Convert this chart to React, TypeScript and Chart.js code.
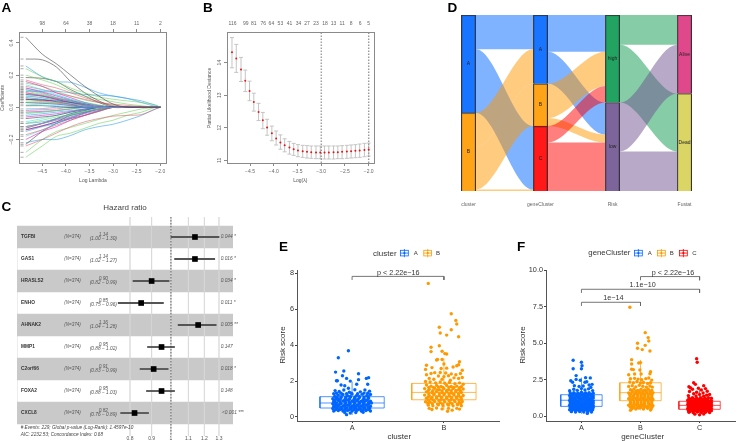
import React, { useEffect, useRef } from "react";
import { Chart, registerables } from "chart.js";

Chart.register(...registerables);

const W = 739;
const H = 441;
const FAM = '"Liberation Sans", Arial, sans-serif';

/* ---------- Panel A: coefficient paths ---------- */
const lambdaKnots = [-4.85, -4.5, -4.2, -3.9, -3.6, -3.3, -3.0, -2.7, -2.4, -2.1, -2.0];
const pathColors = ["#333333", "#DF536B", "#61D04F", "#2297E6", "#28E2E5", "#CD0BBC"];
const coefPaths = [
  [.435, .33, .27, .2, .13, .07, .02],
  [.17, .14, .12, .09, .06, .035, .01],
  [.24, .19, .16, .12, .09, .065, .05, .04, .03, .015, 0],
  [.257, .19, .16, .155, .125, .09, .07, .055, .04, .012, 0],
  [.14, .11, .08, .05, .03, .01],
  [.16, .13, .09, .06, .03, .01],
  [.3, .295, .25, .16, .09, .04, .005],
  [.13, .11, .09, .07, .05, .03, .02, .012, .005],
  [.2, .17, .14, .1, .07, .05, .035, .02, .01],
  [.1, .1, .1, .09, .08, .075, .07, .055, .03, .005],
  [.11, .085, .06, .04, .02],
  [.12, .095, .07, .045, .02],
  [.185, .18, .16, .11, .07, .03],
  [.09, .075, .055, .04, .02],
  [.15, .13, .1, .07, .045, .03, .015],
  [.08, .07, .055, .035, .02],
  [.07, .06, .04, .025, .01],
  [.09, .07, .05, .03, .01],
  [.05, .045, .04, .03, .02, .01],
  [.05, .04, .03, .02, .01],
  [.03, .03, .025, .02, .01],
  [.03, .025, .02, .012],
  [.02, .015, .01, .005],
  [.05, .045, .035, .02],
  [.01, .01, .005],
  [-.02, -.015, -.01],
  [-.04, -.03, -.02, -.01],
  [-.05, -.04, -.03, -.02, -.01],
  [-.03, -.03, -.02, -.01],
  [-.06, -.05, -.04, -.025, -.01],
  [-.07, -.06, -.05, -.03, -.015],
  [-.24, -.2, -.16, -.12, -.09, -.07, -.055, -.05, -.045, -.01, 0],
  [-.1, -.08, -.06, -.045, -.025, -.01],
  [-.22, -.2, -.2, -.175, -.14, -.12, -.105, -.08, -.05, -.01],
  [-.12, -.1, -.08, -.05, -.03, -.01],
  [-.14, -.115, -.09, -.065, -.035, -.01],
  [-.14, -.115, -.09, -.05, -.03, -.01],
  [-.17, -.14, -.11, -.08, -.05, -.025],
  [-.31, -.24, -.18, -.16, -.13, -.1, -.08, -.05, -.03],
  [-.15, -.12, -.1, -.07, -.04, -.02],
  [-.18, -.14, -.1, -.06, -.03],
  [-.2, -.15, -.12, -.08, -.05, -.02],
  [-.23, -.15, -.1, -.07, -.05, -.025],
  [-.12, -.1, -.08, -.06, -.035, -.015],
  [-.28, -.2, -.15, -.125, -.1, -.075, -.05, -.03, -.01],
  [-.1, -.09, -.07, -.04, -.02],
  [-.09, -.07, -.05, -.03, -.01],
  [-.12, -.1, -.075, -.05, -.03, -.01],
  [-.13, -.1, -.07, -.04, -.02],
  [.07, .06, .045, .03, .015],
  [.1, .08, .06, .04, .03, .015],
  [.06, .05, .035, .02],
  [.06, .05, .04, .03, .015],
  [.03, .025, .02, .01],
  [.08, .07, .05, .03, .015],
  [.11, .09, .06, .04, .02],
  [.04, .035, .025, .015],
  [-.01, -.008],
  [.12, .1, .075, .05, .025],
  [-.03, -.025, -.02, -.01],
];
const lambdaTicks = [-4.5, -4, -3.5, -3, -2.5, -2];
const lambdaTickLabels = ["\u22124.5", "\u22124.0", "\u22123.5", "\u22123.0", "\u22122.5", "\u22122.0"];
const coefTopLabels = ["98", "64", "38", "18", "11", "2"];
const coefTicks = [-.2, 0, .2, .4];
const coefTickLabels = ["\u22120.2", "0.0", "0.2", "0.4"];

/* ---------- Panel B: cross-validation ---------- */
const cvLambda = [-4.88, -4.79, -4.69, -4.6, -4.51, -4.42, -4.32, -4.23, -4.14, -4.04, -3.95, -3.86, -3.77, -3.67, -3.58, -3.49, -3.39, -3.3, -3.21, -3.11, -3.02, -2.93, -2.84, -2.74, -2.65, -2.56, -2.46, -2.37, -2.28, -2.19, -2.09, -2.0];
const cvMean = [14.32, 14.13, 13.79, 13.44, 13.13, 12.79, 12.48, 12.23, 12.01, 11.83, 11.67, 11.55, 11.46, 11.39, 11.34, 11.3, 11.28, 11.26, 11.25, 11.24, 11.24, 11.24, 11.24, 11.25, 11.25, 11.26, 11.27, 11.28, 11.29, 11.3, 11.32, 11.33];
const cvUpper = [14.77, 14.56, 14.16, 13.77, 13.43, 13.06, 12.75, 12.47, 12.26, 12.05, 11.9, 11.78, 11.66, 11.58, 11.52, 11.48, 11.46, 11.45, 11.44, 11.44, 11.44, 11.44, 11.44, 11.44, 11.44, 11.45, 11.46, 11.47, 11.48, 11.5, 11.52, 11.53];
const cvLower = [13.84, 13.7, 13.42, 13.11, 12.83, 12.51, 12.22, 11.97, 11.77, 11.6, 11.47, 11.34, 11.26, 11.19, 11.15, 11.11, 11.09, 11.07, 11.06, 11.05, 11.05, 11.04, 11.04, 11.04, 11.05, 11.05, 11.06, 11.07, 11.08, 11.09, 11.11, 11.13];
const cvTopTicks = [-4.87, -4.59, -4.42, -4.22, -4.05, -3.86, -3.67, -3.48, -3.3, -3.11, -2.92, -2.74, -2.56, -2.37, -2.18, -2.0];
const cvTopLabels = ["116", "99", "81", "76", "64", "53", "41", "34", "27", "23", "18", "13", "11", "8", "6", "5"];
const cvYTicks = [11, 12, 13, 14];
const cvVLines = [-3, -2];

/* ---------- Panel C: forest plot ---------- */
const genes = ["TGFBI", "GAS1", "HRASLS2", "ENHO", "AHNAK2", "MMP1", "C2orf66", "FOXA2", "CXCL8"];
const hazard = [1.14, 1.14, 0.9, 0.85, 1.16, 0.95, 0.91, 0.95, 0.82];
const hazardLo = [1.0, 1.02, 0.813, 0.75, 1.04, 0.88, 0.845, 0.875, 0.76];
const hazardHi = [1.3, 1.27, 0.99, 0.96, 1.28, 1.02, 0.985, 1.02, 0.885];
const hazardText = ["1.14", "1.14", "0.90", "0.85", "1.16", "0.95", "0.91", "0.95", "0.82"];
const ciText = ["(1.00 \u2212 1.30)", "(1.02 \u2212 1.27)", "(0.82 \u2212 0.99)", "(0.75 \u2212 0.96)", "(1.04 \u2212 1.28)", "(0.88 \u2212 1.02)", "(0.83 \u2212 0.99)", "(0.88 \u2212 1.03)", "(0.76 \u2212 0.89)"];
const pText = ["0.044 *", "0.016 *", "0.034 *", "0.011 *", "0.005 **", "0.147", "0.018 *", "0.148", "<0.001 ***"];
const hrTicks = [0.8, 0.9, 1, 1.1, 1.2, 1.3];
const hrTickLabels = ["0.8", "0.9", "1", "1.1", "1.2", "1.3"];

/* ---------- Panel D: alluvial ---------- */
const alluvialAxes = ["cluster", "geneCluster", "Risk", "Fustat"];
const strataNames = [["A", "B"], ["A", "B", "C"], ["high", "low"], ["Alive", "Dead"]];
const strataColors = [
  ["#0066ff", "#ff9900"],
  ["#0066ff", "#ff9900", "#ff0000"],
  ["#0b9950", "#6f5490"],
  ["#dd3480", "#d6d054"],
];
const strataSizes = [[208, 166], [146, 90, 138], [186, 188], [167, 207]];
const flowTable = [
  [0, 0, 0, 73], [0, 0, 2, 135], [0, 1, 0, 73], [0, 1, 1, 90], [0, 1, 2, 3],
  [1, 0, 0, 78], [1, 0, 1, 68], [1, 1, 0, 73], [1, 1, 1, 17], [1, 2, 0, 35], [1, 2, 1, 103],
  [2, 0, 0, 63], [2, 0, 1, 123], [2, 1, 0, 104], [2, 1, 1, 84],
];

/* ---------- Panels E, F: risk score ---------- */
const eA = [[-.04, 3.69], [-.15, 3.3], [-.18, 2.5], [-.09, 2.56], [.07, 2.41], [-.06, 2.15], [-.17, 2.02], [-.16, 2.02], [-.105, 2.3], [-.02, 2], [.07, 2.08], [.155, 2.15], [.18, 2.19], [.17, 1.82], [-.12, 1.78], [-.08, 1.74], [.05, 1.82], [-.185, 1.47], [-.04, 1.6],
  [-.2, 1.3], [-.14, 1.42], [-.09, 1.5], [-.03, 1.38], [.03, 1.52], [.09, 1.4], [.14, 1.5], [.19, 1.44],
  [-.19, 1.15], [-.15, 1.22], [-.1, 1.25], [-.05, 1.18], [0, 1.28], [.05, 1.2], [.11, 1.26], [.16, 1.18], [.2, 1.25],
  [-.21, 1.02], [-.16, 1.05], [-.12, 1.08], [-.07, 1.02], [-.02, 1.1], [.03, 1.04], [.08, 1.08], [.13, 1.02], [.18, 1.06],
  [-.2, .88], [-.15, .92], [-.1, .9], [-.05, .94], [0, .88], [.05, .92], [.1, .88], [.15, .92], [.2, .88],
  [-.21, .74], [-.17, .78], [-.12, .75], [-.07, .79], [-.02, .74], [.03, .78], [.08, .75], [.13, .78], [.18, .74], [.21, .78],
  [-.2, .6], [-.15, .64], [-.1, .61], [-.05, .65], [0, .6], [.05, .64], [.1, .61], [.15, .65], [.2, .6],
  [-.21, .47], [-.16, .5], [-.11, .46], [-.06, .5], [-.01, .47], [.04, .5], [.09, .46], [.14, .5], [.19, .47],
  [-.2, .33], [-.15, .36], [-.1, .33], [-.05, .36], [0, .33], [.05, .36], [.1, .33], [.15, .36], [.2, .33],
  [-.08, .25], [-.02, .22], [-.06, .13], [.04, .25], [.12, .26]];
const eACore = [[-.18, .4], [-.13, .42], [-.08, .39], [-.03, .41], [.02, .4], [.07, .42], [.12, .39], [.17, .41],
  [-.18, .54], [-.125, .55], [-.075, .53], [-.025, .56], [.025, .54], [.075, .55], [.125, .53], [.175, .55],
  [-.18, .67], [-.14, .69], [-.08, .68], [-.03, .7], [.02, .67], [.07, .69], [.12, .68], [.17, .7],
  [-.185, .81], [-.13, .83], [-.075, .82], [-.03, .84], [.025, .81], [.075, .83], [.125, .82], [.18, .83],
  [-.18, .97], [-.13, .98], [-.08, .96], [-.03, .99], [.02, .97], [.065, .98], [.12, .96], [.17, .98],
  [-.17, 1.12], [-.12, 1.13], [-.07, 1.12], [-.02, 1.14], [.03, 1.12], [.08, 1.14], [.13, 1.12], [.175, 1.14],
  [-.17, 1.32], [-.12, 1.32], [-.06, 1.3], [-.01, 1.33], [.06, 1.3], [.13, 1.33], [.17, 1.32]];
const eB = [[-.17, 7.44], [.08, 5.75], [.13, 5.38], [.14, 5.18], [-.05, 5], [.08, 4.86], [-.04, 4.68], [.03, 4.56], [.16, 4.47], [-.05, 3.97], [-.14, 3.88], [-.14, 3.64], [-.02, 3.66], [.01, 3.53], [.03, 3.51], [-.02, 3.2], [-.07, 3.2], [-.08, 3.17], [-.19, 2.88], [0, 2.95], [.17, 3.08], [.16, 2.91], [-.2, 2.65], [-.13, 2.75], [-.1, 2.47],
  [-.03, 2.7], [.03, 2.72], [.1, 2.78], [.14, 2.85], [.2, 2.6], [.18, 2.42], [-.14, 2.42], [-.04, 2.48], [.02, 2.45], [.08, 2.4], [.13, 2.35], [-.19, 2.35], [-.06, 2.28], [0, 2.25], [.05, 2.3], [.11, 2.18], [.16, 2.15], [.2, 2.2], [-.16, 2.15], [-.11, 2.1], [-.02, 2.1], [.07, 2.05],
  [-.2, 1.98], [-.15, 1.95], [-.09, 1.9], [-.04, 1.95], [.01, 1.88], [.06, 1.92], [.12, 1.85], [.17, 1.9], [.21, 1.82],
  [-.19, 1.78], [-.14, 1.72], [-.08, 1.76], [-.03, 1.7], [.03, 1.76], [.08, 1.7], [.14, 1.72], [.19, 1.68],
  [-.21, 1.58], [-.16, 1.55], [-.1, 1.6], [-.05, 1.52], [0, 1.58], [.05, 1.52], [.1, 1.58], [.16, 1.52], [.21, 1.56],
  [-.19, 1.4], [-.13, 1.36], [-.08, 1.42], [-.02, 1.36], [.03, 1.4], [.08, 1.34], [.13, 1.4], [.19, 1.36],
  [-.21, 1.22], [-.16, 1.18], [-.11, 1.24], [-.05, 1.18], [0, 1.22], [.06, 1.16], [.11, 1.22], [.16, 1.18], [.21, 1.2],
  [-.19, 1.04], [-.14, 1], [-.08, 1.05], [-.03, .98], [.03, 1.04], [.08, .98], [.14, 1.04], [.19, 1],
  [-.2, .85], [-.15, .82], [-.1, .86], [-.04, .8], [.01, .85], [.07, .8], [.12, .86], [.17, .8], [.2, .86],
  [-.17, .66], [-.12, .62], [-.06, .68], [-.01, .62], [.05, .66], [.1, .62], [.15, .68], [.19, .62],
  [-.16, .48], [-.13, .42], [-.08, .5], [-.02, .45], [.05, .48], [.09, .38], [.14, .48], [.17, .44], [.04, .32]];
const eBCore = [[-.175, .75], [-.125, .74], [-.07, .72], [-.015, .73], [.04, .72], [.09, .74], [.145, .72], [.185, .74],
  [-.17, .93], [-.115, .94], [-.055, .92], [0, .94], [.055, .92], [.11, .94], [.165, .92],
  [-.17, 1.12], [-.13, 1.1], [-.08, 1.13], [-.025, 1.1], [.03, 1.12], [.085, 1.09], [.135, 1.12], [.185, 1.1],
  [-.165, 1.3], [-.105, 1.29], [-.05, 1.3], [.005, 1.29], [.055, 1.3], [.105, 1.29], [.16, 1.3],
  [-.17, 1.47], [-.12, 1.47], [-.07, 1.5], [-.02, 1.46], [.03, 1.48], [.08, 1.46], [.13, 1.48], [.18, 1.46],
  [-.165, 1.65], [-.115, 1.65], [-.06, 1.67], [-.01, 1.65], [.055, 1.66], [.11, 1.65], [.17, 1.63]];
const fA = [[-.14, 3.84], [0, 3.7], [.01, 3.47], [-.14, 3.26], [0, 3.26], [-.09, 2.79], [-.09, 2.53], [.07, 2.65], [.15, 2.63], [.09, 2.37], [-.02, 2.47], [-.18, 2.44], [-.15, 2.33], [.06, 2.33], [.18, 2.19], [.13, 2.15], [.16, 1.98], [-.12, 2.1], [-.04, 2.05], [.03, 2.08],
  [-.2, 1.75], [-.13, 1.85], [-.07, 1.78], [0, 1.9], [.06, 1.8], [.12, 1.88], [.19, 1.76],
  [-.19, 1.6], [-.13, 1.62], [-.06, 1.58], [0, 1.65], [.07, 1.6], [.13, 1.62], [.2, 1.58],
  [-.2, 1.42], [-.14, 1.45], [-.07, 1.4], [0, 1.45], [.07, 1.42], [.14, 1.45], [.2, 1.4],
  [-.19, 1.26], [-.13, 1.24], [-.06, 1.28], [0, 1.24], [.07, 1.27], [.13, 1.23], [.2, 1.26],
  [-.2, 1.08], [-.14, 1.1], [-.07, 1.06], [0, 1.1], [.07, 1.07], [.14, 1.1], [.2, 1.06],
  [-.19, .92], [-.13, .9], [-.06, .93], [0, .9], [.07, .93], [.13, .9], [.2, .92],
  [-.2, .76], [-.14, .78], [-.07, .75], [0, .78], [.07, .75], [.14, .78], [.2, .75],
  [-.19, .6], [-.13, .62], [-.06, .6], [0, .63], [.07, .6], [.13, .62], [.2, .6],
  [-.2, .45], [-.14, .47], [-.07, .44], [0, .47], [.07, .44], [.14, .47], [.19, .45],
  [-.17, .32], [-.1, .3], [-.03, .33], [.04, .3], [.11, .33], [.17, .3], [.1, .2]];
const fACore = [[-.165, .38], [-.1, .38], [-.035, .39], [.035, .38], [.105, .38], [.165, .39],
  [-.165, .53], [-.1, .54], [-.035, .53], [.035, .54], [.105, .53], [.165, .54],
  [-.165, .68], [-.1, .69], [-.035, .68], [.035, .7], [.105, .68], [.165, .69],
  [-.165, .85], [-.1, .85], [-.035, .84], [.035, .85], [.105, .84], [.165, .85],
  [-.165, 1], [-.1, 1], [-.035, 1.02], [.035, .99], [.105, 1.01], [.165, 1],
  [-.165, 1.17], [-.1, 1.17], [-.035, 1.16], [.035, 1.18], [.105, 1.16], [.165, 1.17],
  [-.165, 1.34], [-.1, 1.35], [-.03, 1.34], [.035, 1.35], [.105, 1.34], [.165, 1.35],
  [-.16, 1.52], [-.1, 1.53], [-.03, 1.52], [.035, 1.53], [.1, 1.52], [.165, 1.52]];
const fB = [[-.18, 7.47], [.08, 5.73], [.13, 5.39], [.14, 5.16], [-.05, 5], [.08, 4.86], [-.05, 4.66], [.03, 4.57], [.16, 4.47], [-.15, 3.88], [0, 3.68], [-.03, 3.65], [-.15, 3.58], [-.01, 3.17], [-.15, 3.22], [-.12, 3.2], [.17, 3.06], [.16, 2.92], [-.1, 2.9], [.01, 2.9], [-.2, 2.85], [-.17, 2.58],
  [-.1, 2.6], [-.04, 2.55], [.02, 2.5], [.09, 2.58], [.14, 2.62], [.19, 2.48],
  [-.18, 2.35], [-.12, 2.3], [-.06, 2.38], [0, 2.28], [.05, 2.32], [.12, 2.25], [.17, 2.3],
  [-.2, 2.05], [-.14, 2.1], [-.08, 2.02], [-.02, 2.12], [.04, 2.06], [.1, 2], [.16, 2.08], [.2, 2],
  [-.17, 1.82], [-.11, 1.88], [-.05, 1.78], [.01, 1.85], [.07, 1.8], [.13, 1.86], [.19, 1.78],
  [-.2, 1.6], [-.14, 1.66], [-.08, 1.58], [-.02, 1.64], [.04, 1.58], [.1, 1.62], [.16, 1.56], [.21, 1.62],
  [-.18, 1.42], [-.12, 1.38], [-.05, 1.44], [.01, 1.38], [.07, 1.42], [.13, 1.36], [.19, 1.42],
  [-.2, 1.2], [-.14, 1.16], [-.08, 1.22], [-.02, 1.16], [.04, 1.2], [.1, 1.14], [.16, 1.2], [.21, 1.16],
  [-.17, .98], [-.11, .94], [-.05, 1], [.01, .94], [.07, .98], [.13, .92], [.19, .98],
  [-.2, .76], [-.14, .72], [-.08, .78], [-.02, .72], [.04, .76], [.1, .7], [.16, .76], [.21, .72],
  [-.14, .54], [-.08, .5], [-.03, .56], [.05, .5], [.12, .55], [.18, .5], [-.17, .41], [.17, .43]];
const fBCore = [[-.17, .62], [-.11, .62], [-.05, .64], [.01, .62], [.07, .64], [.13, .62], [.19, .62],
  [-.17, .86], [-.11, .84], [-.05, .86], [.01, .84], [.07, .86], [.14, .84], [.19, .85],
  [-.17, 1.08], [-.11, 1.06], [-.05, 1.08], [.01, 1.06], [.07, 1.08], [.13, 1.05], [.19, 1.08],
  [-.17, 1.3], [-.11, 1.28], [-.05, 1.3], [.01, 1.27], [.07, 1.3], [.13, 1.27], [.19, 1.3],
  [-.17, 1.51], [-.11, 1.5], [-.05, 1.52], [.01, 1.5], [.07, 1.5], [.13, 1.48], [.19, 1.51],
  [-.14, 1.75], [-.08, 1.72], [-.02, 1.74], [.04, 1.7], [.1, 1.74], [.16, 1.72]];
const fC = [[-.05, 3.95], [-.04, 3.7], [-.1, 2.3], [.07, 2.1], [-.07, 2.19], [-.18, 2.03], [-.155, 1.96], [-.02, 1.92], [.03, 1.8], [.1, 1.9], [-.12, 1.85], [.13, 1.72], [-.17, 1.7], [-.05, 1.65], [.06, 1.6], [.17, 1.5], [-.1, 1.55], [0, 1.5], [.12, 1.45], [-.19, 1.42], [-.06, 1.4], [.07, 1.38],
  [-.18, 1.25], [-.12, 1.28], [-.05, 1.24], [.02, 1.28], [.09, 1.24], [.15, 1.27], [.2, 1.24],
  [-.2, 1.1], [-.14, 1.12], [-.07, 1.09], [0, 1.12], [.07, 1.09], [.14, 1.12], [.2, 1.09],
  [-.19, .96], [-.13, .98], [-.06, .95], [.01, .98], [.08, .95], [.14, .98], [.2, .95],
  [-.2, .82], [-.14, .84], [-.07, .81], [0, .84], [.07, .81], [.14, .84], [.2, .81],
  [-.19, .68], [-.13, .7], [-.06, .67], [.01, .7], [.08, .67], [.14, .7], [.2, .67],
  [-.2, .54], [-.14, .56], [-.07, .53], [0, .56], [.07, .53], [.14, .56], [.2, .53],
  [-.19, .4], [-.13, .42], [-.06, .39], [.01, .42], [.08, .39], [.14, .42], [.2, .39],
  [-.18, .28], [-.11, .26], [-.04, .29], [.03, .26], [.1, .28], [.17, .26],
  [-.08, .15], [0, .1], [.07, .16]];
const fCCore = [[-.165, .33], [-.1, .34], [-.03, .33], [.04, .34], [.11, .33], [.17, .34],
  [-.165, .47], [-.1, .48], [-.03, .47], [.04, .48], [.11, .47], [.17, .48],
  [-.165, .61], [-.1, .61], [-.03, .6], [.04, .61], [.11, .6], [.17, .61],
  [-.165, .75], [-.1, .75], [-.03, .74], [.04, .75], [.11, .74], [.17, .75],
  [-.165, .89], [-.1, .89], [-.03, .88], [.04, .89], [.11, .88], [.17, .89],
  [-.165, 1.03], [-.1, 1.04], [-.03, 1.03], [.04, 1.04], [.11, 1.03], [.17, 1.04],
  [-.15, 1.17], [-.085, 1.18], [-.02, 1.17], [.05, 1.18], [.12, 1.17]];
const eBoxes = [[.11, .5, .78, 1.13, 1.97], [.39, .96, 1.37, 1.87, 3.27]];
const fBoxes = [[.18, .68, 1.1, 1.48, 2.65], [.41, 1.07, 1.62, 2.3, 3.86], [.09, .48, .75, 1.03, 1.9]];
const groupColors = ["#0066ff", "#ff9900", "#ff0000"];
const eLabels = ["A", "B"];
const fLabels = ["A", "B", "C"];
const eYTicks = [0, 2, 4, 6, 8];
const fYTicks = [0, 2.5, 5, 7.5, 10];
const fYTickLabels = ["0.0", "2.5", "5.0", "7.5", "10.0"];

type Rect = { l: number; r: number; t: number; b: number };
type Txt = { t: string; x: number; y: number; size: number; color?: string; align?: CanvasTextAlign; style?: string; rot?: boolean };

function drawTexts(ctx: CanvasRenderingContext2D, items: Txt[]) {
  items.forEach((it) => {
    ctx.save();
    ctx.font = `${it.style || ""} ${it.size}px ${FAM}`;
    ctx.fillStyle = it.color || "#444";
    ctx.textAlign = it.align || "center";
    ctx.textBaseline = "middle";
    ctx.translate(it.x, it.y);
    if (it.rot) ctx.rotate(-Math.PI / 2);
    ctx.fillText(it.t, 0, 0);
    ctx.restore();
  });
}

const textPlugin = (fn: (c: any) => Txt[]) => ({
  id: "panelText",
  afterDraw(c: any) {
    drawTexts(c.ctx, fn(c));
  },
});

const boxPlugin = {
  id: "panelBox",
  afterDraw(c: any) {
    const a = c.chartArea;
    c.ctx.save();
    c.ctx.strokeStyle = "#8a8a8a";
    c.ctx.lineWidth = 1;
    c.ctx.strokeRect(a.left + 0.5, a.top + 0.5, a.right - a.left, a.bottom - a.top);
    c.ctx.restore();
  },
};

const thickLeft = (r: Rect) => Math.min(r.l, 30);
const thickTop = (r: Rect) => Math.min(r.t, 20);
const thickBottom = (r: Rect) => Math.min(H - r.b, 20);

function frame(r: Rect, sides: string[]) {
  return {
    responsive: false,
    animation: false as const,
    events: [] as any[],
    layout: {
      padding: {
        left: r.l - (sides.includes("left") ? thickLeft(r) : 0),
        top: r.t - (sides.includes("top") ? thickTop(r) : 0),
        right: W - r.r,
        bottom: H - r.b - (sides.includes("bottom") ? thickBottom(r) : 0),
      },
    },
    plugins: { legend: { display: false }, tooltip: { enabled: false } },
  };
}

function axis(o: any) {
  const size = o.position === "left" ? thickLeft(o.rect) : o.position === "top" ? thickTop(o.rect) : thickBottom(o.rect);
  return {
    type: o.type || "linear",
    position: o.position,
    min: o.min,
    max: o.max,
    reverse: !!o.reverse,
    offset: false,
    afterFit(s: any) {
      if (s.isHorizontal()) s.height = size;
      else s.width = size;
    },
    afterBuildTicks(s: any) {
      s.ticks = o.values.map((v: number) => ({ value: v }));
    },
    ticks: {
      autoSkip: false,
      maxRotation: 0,
      minRotation: 0,
      display: o.hideLabels ? false : true,
      font: { family: FAM, size: o.size || 5 },
      color: o.color || "#666",
      padding: o.pad ?? 2,
      callback: (_v: any, i: number) => (o.labels ? o.labels[i] : String(o.values[i])),
    },
    grid: {
      display: true,
      offset: false,
      drawOnChartArea: false,
      drawTicks: (o.tick ?? 2) > 0,
      tickLength: o.tick ?? 2,
      color: o.gridColor || o.tickColor || "#8a8a8a",
      lineWidth: 1,
    },
    border: { display: !!o.border, color: o.border || "#000", width: o.borderWidth || 1 },
  };
}

function segs(pairs: number[][][]) {
  const out: any[] = [];
  pairs.forEach((poly) => {
    poly.forEach(([x, y]) => out.push({ x, y }));
    out.push({ x: poly[0][0], y: null });
  });
  return out;
}

function panelA() {
  const r = { l: 19, r: 166, t: 32, b: 163 };
  const lines = coefPaths.map((p, i) => ({
    type: "line",
    data: lambdaKnots.map((x, k) => ({ x, y: p[k] ?? 0 })),
    borderColor: pathColors[i % pathColors.length],
    borderWidth: 0.55,
    tension: 0.3,
    pointRadius: 0,
    order: 2,
  }));
  const rug = {
    type: "line",
    showLine: false,
    data: coefPaths.map((p) => ({ x: -4.93, y: p[0] })),
    pointStyle: "line",
    pointRadius: 1.5,
    pointBorderWidth: 0.7,
    pointBorderColor: "#888",
    order: 1,
  };
  return {
    type: "line",
    data: { datasets: [...lines, rug] },
    options: {
      ...frame(r, ["left", "top", "bottom"]),
      scales: {
        x: axis({ rect: r, min: -4.994, max: -1.879, position: "bottom", values: lambdaTicks, labels: lambdaTickLabels, pad: 2.5, tick: 3 }),
        xTop: axis({ rect: r, min: -4.994, max: -1.879, position: "top", values: lambdaTicks, labels: coefTopLabels, pad: 2.2, tick: 3 }),
        y: axis({ rect: r, min: -0.346, max: 0.468, position: "left", values: coefTicks, hideLabels: true, tick: 3 }),
      },
    },
    plugins: [
      boxPlugin,
      textPlugin((c) => [
        ...coefTicks.map((v, i) => ({ t: coefTickLabels[i], x: 12, y: c.scales.y.getPixelForValue(v), size: 5, color: "#666", rot: true })),
        { t: "Log Lambda", x: 93, y: 181, size: 5, color: "#555" },
        { t: "Coefficients", x: 2.5, y: 98, size: 5, color: "#555", rot: true },
      ]),
    ],
  };
}

function panelB() {
  const r = { l: 227, r: 374, t: 32, b: 163 };
  const bars = {
    type: "line",
    data: segs(cvLambda.map((x, i) => [[x, cvLower[i]], [x, cvUpper[i]]])),
    borderColor: "#c4c4c4",
    borderWidth: 1,
    pointRadius: 0,
    order: 4,
  };
  const cap = (vals: number[]) => ({
    type: "line",
    showLine: false,
    data: cvLambda.map((x, i) => ({ x, y: vals[i] })),
    pointStyle: "line",
    pointRadius: 2,
    pointBorderWidth: 1,
    pointBorderColor: "#c4c4c4",
    order: 3,
  });
  const vlines = cvVLines.map((x, i) => ({
    type: "line",
    data: [{ x, y: 10.917 }, { x, y: 14.94 }],
    borderColor: i === 0 ? "#555" : "#999",
    borderWidth: i === 0 ? 0.8 : 1.4,
    borderDash: [1.5, 1.5],
    pointRadius: 0,
    order: 2,
  }));
  const mean = {
    type: "line",
    showLine: false,
    data: cvLambda.map((x, i) => ({ x, y: cvMean[i] })),
    pointRadius: 1,
    pointBorderWidth: 0,
    pointBackgroundColor: "#ee1111",
    order: 1,
  };
  return {
    type: "line",
    data: { datasets: [bars, cap(cvUpper), cap(cvLower), ...vlines, mean] },
    options: {
      ...frame(r, ["left", "top", "bottom"]),
      scales: {
        x: axis({ rect: r, min: -4.985, max: -1.888, position: "bottom", values: lambdaTicks, labels: lambdaTickLabels, pad: 2.5, tick: 3 }),
        xTop: axis({ rect: r, min: -4.985, max: -1.888, position: "top", values: cvTopTicks, labels: cvTopLabels, pad: 5, tick: 0, gridColor: "rgba(0,0,0,0)" }),
        y: axis({ rect: r, min: 10.917, max: 14.94, position: "left", values: cvYTicks, hideLabels: true, tick: 3 }),
      },
    },
    plugins: [
      boxPlugin,
      textPlugin((c) => [
        ...cvYTicks.map((v) => ({ t: String(v), x: 219.5, y: c.scales.y.getPixelForValue(v), size: 5, color: "#666", rot: true })),
        { t: "Log(\u03bb)", x: 300.3, y: 180.3, size: 5, color: "#555" },
        { t: "Partial Likelihood Deviance", x: 210, y: 98, size: 5, color: "#555", rot: true },
      ]),
    ],
  };
}

function panelC() {
  const r = { l: 17, r: 233, t: 217, b: 436 };
  const xMin = 0.4318;
  const xMax = 1.403;
  const bands = {
    type: "bar",
    data: genes.map((_, i) => ({ x: i % 2 === 0 ? [xMin, xMax] : [xMin, xMin], y: i })),
    backgroundColor: "#c9c9c9",
    barThickness: 22,
    grouped: false,
    order: 6,
  };
  const gridLines = {
    type: "line",
    data: segs(hrTicks.map((x) => [[x, -0.909], [x, 9.045]])),
    borderColor: "rgba(215,215,215,0.6)",
    borderWidth: 1,
    pointRadius: 0,
    order: 5,
  };
  const ci = {
    type: "bar",
    data: genes.map((_, i) => ({ x: [hazardLo[i], hazardHi[i]], y: i })),
    backgroundColor: "#555",
    barThickness: 1.2,
    grouped: false,
    order: 3,
  };
  const ref = {
    type: "line",
    data: [{ x: 1, y: -0.909 }, { x: 1, y: 9.045 }],
    borderColor: "#444",
    borderWidth: 0.8,
    borderDash: [1.5, 1.5],
    pointRadius: 0,
    order: 2,
  };
  const squares = {
    type: "line",
    showLine: false,
    data: genes.map((_, i) => ({ x: hazard[i], y: i })),
    pointStyle: "rect",
    pointRadius: 4,
    pointBorderWidth: 0,
    pointBackgroundColor: "#000",
    order: 1,
  };
  return {
    type: "bar",
    data: { datasets: [bands, gridLines, ci, ref, squares] },
    options: {
      ...frame(r, ["bottom"]),
      indexAxis: "y",
      scales: {
        x: axis({ rect: r, type: "logarithmic", min: xMin, max: xMax, position: "bottom", values: hrTicks, hideLabels: true, tick: 0, gridColor: "rgba(0,0,0,0)" }),
        y: { type: "linear", min: -0.909, max: 9.045, reverse: true, display: false, offset: false },
      },
    },
    plugins: [
      textPlugin((c) => {
        const y = (i: number) => c.scales.y.getPixelForValue(i);
        const out: Txt[] = [
          { t: "Hazard ratio", x: 125, y: 208, size: 8, color: "#444" },
          { t: "# Events: 229; Global p-value (Log-Rank): 1.4597e-10", x: 20.7, y: 427.7, size: 4.7, align: "left", style: "italic", color: "#444" },
          { t: "AIC: 2232.53; Concordance Index: 0.68", x: 20.7, y: 434.3, size: 4.7, align: "left", style: "italic", color: "#444" },
        ];
        hrTicks.forEach((v, i) => out.push({ t: hrTickLabels[i], x: c.scales.x.getPixelForValue(v), y: 438.3, size: 5, color: "#555" }));
        genes.forEach((g, i) => {
          out.push({ t: g, x: 21, y: y(i), size: 4.8, align: "left", style: "bold", color: "#333" });
          out.push({ t: "(N=374)", x: 64.3, y: y(i), size: 4.5, align: "left", style: "italic", color: "#555" });
          out.push({ t: hazardText[i], x: 103.3, y: y(i) - 2, size: 4.8, style: "italic", color: "#555" });
          out.push({ t: ciText[i], x: 103.3, y: y(i) + 2, size: 4.8, style: "italic", color: "#555" });
          out.push({ t: pText[i], x: i === 8 ? 222 : 220.7, y: y(i), size: 4.8, align: "left", style: "italic", color: "#555" });
        });
        return out;
      }),
    ],
  };
}

function panelD() {
  const r = { l: 454, r: 698, t: 15, b: 191 };
  const NODE = 0.1;
  const tops = strataSizes.map((s) => {
    let acc = 374;
    return s.map((n) => {
      const t = acc;
      acc -= n;
      return t;
    });
  });
  const outUsed = tops.map((t) => t.slice());
  const inUsed = tops.map((t) => t.slice());
  const flows: any[] = [];
  flowTable.forEach(([ax, from, to, n], idx) => {
    const a0 = outUsed[ax][from];
    const b0 = inUsed[ax + 1][to];
    outUsed[ax][from] -= n;
    inUsed[ax + 1][to] -= n;
    const x0 = ax + NODE;
    const x1 = ax + 1 - NODE;
    const path = (p: number, q: number) => [{ x: x0, y: p }, { x: x0 + 0.005, y: p }, { x: x1 - 0.005, y: q }, { x: x1, y: q }];
    const base = { type: "line", pointRadius: 0, borderWidth: 0, cubicInterpolationMode: "monotone", order: 100 - idx };
    flows.push({ ...base, data: path(a0, b0), fill: false });
    flows.push({ ...base, data: path(a0 - n, b0 - n), fill: "-1", backgroundColor: strataColors[ax][from] + "80" });
  });
  const nodeData: any[] = [];
  const nodeColors: string[] = [];
  strataSizes.forEach((s, ax) =>
    s.forEach((n, k) => {
      nodeData.push({ x: ax, y: [tops[ax][k] - n, tops[ax][k]] });
      nodeColors.push(strataColors[ax][k] + "e6");
    })
  );
  const nodes = { type: "bar", data: nodeData, backgroundColor: nodeColors, borderColor: "#333", borderWidth: 1, barThickness: 14.3, order: 1 };
  return {
    type: "bar",
    data: { datasets: [...flows, nodes] },
    options: {
      ...frame(r, ["bottom"]),
      scales: {
        x: axis({ rect: r, min: -0.2014, max: 3.187, position: "bottom", values: [0, 1, 2, 3], labels: alluvialAxes, pad: 10.5, tick: 0, gridColor: "rgba(0,0,0,0)" }),
        y: { type: "linear", min: 0, max: 374, display: false, offset: false },
      },
    },
    plugins: [
      textPlugin((c) => {
        const out: Txt[] = [];
        strataNames.forEach((names, ax) =>
          names.forEach((t, k) => {
            out.push({
              t,
              x: c.scales.x.getPixelForValue(ax),
              y: c.scales.y.getPixelForValue(tops[ax][k] - strataSizes[ax][k] / 2),
              size: 5,
              color: "#222",
            });
          })
        );
        return out;
      }),
    ],
  };
}

function boxPoly(c: number, b: number[]) {
  const [lo, q1, med, q3, hi] = b;
  const w = 0.35;
  return [
    [[c - w, q1], [c + w, q1], [c + w, q3], [c - w, q3], [c - w, q1]],
    [[c - w, med], [c + w, med]],
    [[c, lo], [c, q1]],
    [[c, q3], [c, hi]],
  ];
}

function bracket(x0: number, x1: number, y: number, drop: number) {
  return [[[x0, y - drop], [x0, y], [x1, y], [x1, y - drop]]];
}

function legendKey(ctx: CanvasRenderingContext2D, x: number, color: string) {
  ctx.save();
  ctx.strokeStyle = color;
  ctx.fillStyle = color;
  ctx.lineWidth = 0.8;
  ctx.strokeRect(x + 0.5, 250.3, 7.8, 5.6);
  ctx.beginPath();
  ctx.moveTo(x + 0.5, 253.1);
  ctx.lineTo(x + 8.3, 253.1);
  ctx.moveTo(x + 4.4, 249);
  ctx.lineTo(x + 4.4, 257.2);
  ctx.stroke();
  ctx.beginPath();
  ctx.arc(x + 4.4, 253.1, 1.1, 0, Math.PI * 2);
  ctx.fill();
  ctx.restore();
}

function riskPanel(o: any) {
  const sets = o.points.map((pts: number[][], g: number) => ({
    type: "line",
    showLine: false,
    data: pts.map(([j, v]) => ({ x: g + j, y: v })),
    pointRadius: 1.7,
    pointBorderWidth: 0,
    pointBackgroundColor: groupColors[g],
    order: 1,
  }));
  const boxes = o.boxes.map((b: number[], g: number) => ({
    type: "line",
    data: segs(boxPoly(g, b)),
    borderColor: groupColors[g] + "b0",
    borderWidth: 1,
    pointRadius: 0,
    order: 2,
  }));
  const br = {
    type: "line",
    data: segs(o.brackets.flatMap((b: number[]) => bracket(b[0], b[1], b[2], b[3]))),
    borderColor: "#666",
    borderWidth: 0.9,
    pointRadius: 0,
    order: 3,
  };
  return {
    type: "line",
    data: { datasets: [...sets, ...boxes, br] },
    options: {
      ...frame(o.rect, ["left", "bottom"]),
      scales: {
        x: axis({ rect: o.rect, min: -0.6, max: o.labels.length - 0.4, position: "bottom", values: o.labels.map((_: any, i: number) => i), labels: o.labels, size: 7.3, color: "#333", pad: 0.8, tick: 2, tickColor: "#444", border: "#555", borderWidth: 1 }),
        y: axis({ rect: o.rect, min: o.yMin, max: o.yMax, position: "left", values: o.yTicks, labels: o.yLabels, size: 7.3, color: "#333", pad: 1, tick: 2, tickColor: "#444", border: "#555", borderWidth: 1 }),
      },
    },
    plugins: [
      {
        id: "riskLegend",
        afterDraw(c: any) {
          o.keys.forEach((x: number, g: number) => legendKey(c.ctx, x, groupColors[g]));
        },
      },
      textPlugin(() => o.texts),
    ],
  };
}

function panelE() {
  return riskPanel({
    rect: { l: 297, r: 499, t: 270, b: 421 },
    yMin: -0.223,
    yMax: 8.185,
    yTicks: eYTicks,
    labels: eLabels,
    points: [[...eA, ...eACore], [...eB, ...eBCore]],
    boxes: eBoxes,
    brackets: [[0, 1, 7.83, 0.2]],
    keys: [400, 423.3],
    texts: [
      { t: "cluster", x: 373, y: 253.3, size: 8, align: "left", color: "#333" },
      { t: "A", x: 415.7, y: 253.3, size: 6, color: "#333" },
      { t: "B", x: 438, y: 253.3, size: 6, color: "#333" },
      { t: "p < 2.22e\u221216", x: 398.3, y: 272.7, size: 7.2, color: "#333" },
      { t: "cluster", x: 399.3, y: 437, size: 8, color: "#333" },
      { t: "Risk score", x: 283, y: 345, size: 8, color: "#333", rot: true },
    ],
  });
}

function panelF() {
  return riskPanel({
    rect: { l: 546, r: 739, t: 270, b: 421 },
    yMin: -0.32,
    yMax: 10.02,
    yTicks: fYTicks,
    yLabels: fYTickLabels,
    labels: fLabels,
    points: [[...fA, ...fACore], [...fB, ...fBCore], [...fC, ...fCCore]],
    boxes: fBoxes,
    brackets: [[0, 1, 7.81, 0.25], [0, 2, 8.7, 0.25], [1, 2, 9.57, 0.25]],
    keys: [634, 657, 679],
    texts: [
      { t: "geneCluster", x: 588.3, y: 253.3, size: 7.8, align: "left", color: "#333" },
      { t: "A", x: 649.7, y: 253.3, size: 6, color: "#333" },
      { t: "B", x: 671.7, y: 253.3, size: 6, color: "#333" },
      { t: "C", x: 694.3, y: 253.3, size: 6, color: "#333" },
      { t: "1e\u221214", x: 613.3, y: 298.3, size: 7.2, color: "#333" },
      { t: "1.1e\u221210", x: 642.7, y: 285.3, size: 7.2, color: "#333" },
      { t: "p < 2.22e\u221216", x: 673, y: 273, size: 7.2, color: "#333" },
      { t: "geneCluster", x: 642.7, y: 437, size: 8, color: "#333" },
      { t: "Risk score", x: 522.3, y: 345, size: 8, color: "#333", rot: true },
    ],
  });
}

function panelLetters() {
  return {
    type: "line",
    data: { datasets: [] },
    options: { ...frame({ l: 0, r: W, t: 0, b: H }, []), scales: { x: { display: false }, y: { display: false } } },
    plugins: [
      textPlugin(() => [
        { t: "A", x: 1.5, y: 8, size: 13.5, style: "bold", align: "left", color: "#000" },
        { t: "B", x: 203, y: 8, size: 13.5, style: "bold", align: "left", color: "#000" },
        { t: "C", x: 1.5, y: 207, size: 13.5, style: "bold", align: "left", color: "#000" },
        { t: "D", x: 447.5, y: 8, size: 13.5, style: "bold", align: "left", color: "#000" },
        { t: "E", x: 279, y: 247, size: 13.5, style: "bold", align: "left", color: "#000" },
        { t: "F", x: 517, y: 247, size: 13.5, style: "bold", align: "left", color: "#000" },
      ]),
    ],
  };
}

const builders = [panelA, panelB, panelC, panelD, panelE, panelF, panelLetters];

export default function App() {
  const refs = useRef<(HTMLCanvasElement | null)[]>([]);
  useEffect(() => {
    const charts = builders.map((b, i) => new Chart(refs.current[i] as HTMLCanvasElement, b() as any));
    return () => charts.forEach((c) => c.destroy());
  }, []);
  return (
    <div style={{ position: "fixed", left: 0, top: 0, width: W, height: H, background: "#fff", overflow: "hidden" }}>
      {builders.map((_, i) => (
        <canvas
          key={i}
          ref={(el) => {
            refs.current[i] = el;
          }}
          width={W}
          height={H}
          style={{ position: "absolute", left: 0, top: 0, width: W, height: H }}
        />
      ))}
    </div>
  );
}
